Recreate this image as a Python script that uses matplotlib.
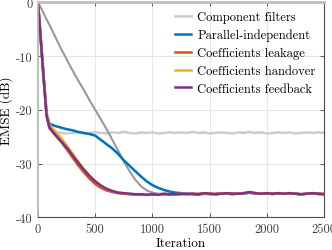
import matplotlib
matplotlib.use("Agg")
import matplotlib.pyplot as plt

plt.rcParams['font.family'] = 'serif'
plt.rcParams['font.serif'] = ['cmr10']
plt.rcParams['axes.unicode_minus'] = False
plt.rcParams['mathtext.fontset'] = 'cm'

# iteraciones donde se leyeron los valores
iters = [0, 25, 50, 75, 100] + list(range(150, 2501, 50))

# EMSE (dB)
comp_fast = [0, -7.1, -14.2, -20.8, -23.4, -24.2, -24.3, -24.4, -24.3, -24.2,
             -24.4, -24.3, -24.2, -24.3, -24.4, -24.2, -24.3, -24.1, -24.3, -24.4,
             -24.2, -24.3, -24.2, -24.4, -24.3, -24.2, -24.3,
             -24.2, -24.3, -24.1, -24.3, -24.2, -24.4, -24.3, -24.2, -24.3, -24.4,
             -24.2, -24.3, -24.1, -24.3, -24.2, -24.4, -24.3, -24.2, -24.3, -24.2,
             -24.4, -24.3, -24.2, -24.3, -24.2, -24.3]
comp_slow = [0, -1.0, -2.1, -3.2, -4.2, -6.4, -8.6, -10.6, -12.6, -14.5,
             -16.3, -18.2, -20.0, -21.8, -23.6, -25.6, -27.6, -29.6, -31.4, -33.0,
             -34.2, -35.0, -35.4, -35.6, -35.7, -35.8, -35.7,
             -35.7, -35.6, -35.7, -35.6, -35.7, -35.6, -35.7, -35.6, -35.6, -35.7,
             -35.6, -35.6, -35.5, -35.6, -35.6, -35.5, -35.6, -35.6, -35.6, -35.5,
             -35.6, -35.7, -35.6, -35.6, -35.6, -35.7]
parallel = [0, -7.1, -14.2, -20.8, -22.6, -23.0, -23.3, -23.6, -23.8, -24.1,
            -24.3, -24.5, -24.8, -25.6, -26.4, -27.2, -28.2, -29.4, -30.4, -31.4,
            -32.4, -33.3, -34.0, -34.5, -34.9, -35.2, -35.4,
            -35.5, -35.6, -35.6, -35.7, -35.5, -35.6, -35.7, -35.6, -35.5, -35.6,
            -35.6, -35.5, -35.4, -35.5, -35.6, -35.5, -35.6, -35.5, -35.6, -35.5,
            -35.6, -35.7, -35.6, -35.5, -35.6, -35.7]
leakage = [0, -7.3, -14.5, -21.2, -23.4, -24.7, -25.9, -27.3, -28.8, -30.3,
           -31.6, -32.8, -33.8, -34.5, -35.0, -35.3, -35.5, -35.6, -35.7, -35.8,
           -35.8, -35.8, -35.8, -35.7, -35.7, -35.8, -35.7,
           -35.7, -35.6, -35.7, -35.8, -35.6, -35.7, -35.6, -35.5, -35.6, -35.7,
           -35.6, -35.5, -35.3, -35.6, -35.6, -35.5, -35.7, -35.5, -35.6, -35.5,
           -35.6, -35.7, -35.6, -35.5, -35.7, -35.6]
handover = [0, -7.0, -14.0, -20.5, -22.8, -24.0, -25.2, -26.6, -28.1, -29.6,
            -31.0, -32.2, -33.3, -34.1, -34.7, -35.1, -35.4, -35.5, -35.6, -35.7,
            -35.7, -35.8, -35.7, -35.7, -35.6, -35.7, -35.7,
            -35.6, -35.7, -35.6, -35.6, -35.5, -35.6, -35.7, -35.6, -35.5, -35.6,
            -35.6, -35.5, -35.3, -35.5, -35.6, -35.5, -35.6, -35.5, -35.6, -35.5,
            -35.6, -35.7, -35.6, -35.5, -35.6, -35.7]
feedback = [0, -7.2, -14.3, -21.0, -23.3, -24.6, -25.8, -27.0, -28.4, -29.8,
            -31.1, -32.3, -33.3, -34.1, -34.7, -35.1, -35.4, -35.5, -35.6, -35.7,
            -35.7, -35.8, -35.7, -35.8, -35.6, -35.7, -35.7,
            -35.6, -35.7, -35.6, -35.7, -35.5, -35.6, -35.7, -35.6, -35.5, -35.6,
            -35.6, -35.5, -35.3, -35.5, -35.6, -35.5, -35.6, -35.5, -35.6, -35.5,
            -35.6, -35.7, -35.6, -35.5, -35.6, -35.7]

fig = plt.figure(figsize=(3.32, 2.51), dpi=100)
ax = fig.add_axes([0.1145, 0.130, 0.8615, 0.857])

ax.plot(iters, comp_fast, color=(0.8, 0.8, 0.8), lw=1.8, label="Component filters")
ax.plot(iters, comp_slow, color=(0.6, 0.6, 0.6), lw=1.5)
ax.plot(iters, parallel, color=(0, 0.447, 0.741), lw=1.8, label="Parallel-independent")
ax.plot(iters, leakage, color=(0.85, 0.325, 0.098), lw=1.8, label="Coefficients leakage")
ax.plot(iters, handover, color=(0.929, 0.694, 0.125), lw=1.8, label="Coefficients handover")
ax.plot(iters, feedback, color=(0.494, 0.184, 0.556), lw=1.8, label="Coefficients feedback")

ax.set_xlim(0, 2500)
ax.set_ylim(-40, 0)
ax.set_xticks([0, 500, 1000, 1500, 2000, 2500])
ax.set_yticks([-40, -30, -20, -10, 0])
ax.grid(True, color=(0.9, 0.9, 0.9), lw=0.8)
ax.set_axisbelow(True)
ax.tick_params(direction='in', top=True, right=True, length=3, width=0.6,
               labelsize=9, colors=(0.25, 0.25, 0.25), pad=4)
for s in ['bottom', 'right']:
    ax.spines[s].set_color((0.3, 0.3, 0.3))
    ax.spines[s].set_linewidth(0.8)
ax.spines['top'].set_color((0.75, 0.75, 0.75))
ax.spines['top'].set_linewidth(2.0)
ax.spines['left'].set_color((0.7, 0.7, 0.7))
ax.spines['left'].set_linewidth(1.2)

ax.set_xlabel("Iteration", fontsize=9.5, labelpad=1)
ax.set_ylabel("EMSE (dB)", fontsize=9.5, labelpad=2)

ax.legend(loc='upper right', frameon=False, fontsize=9, handlelength=1.3,
          handletextpad=0.5, labelspacing=0.45, borderaxespad=0.3)

fig.savefig("out.png", dpi=100)
